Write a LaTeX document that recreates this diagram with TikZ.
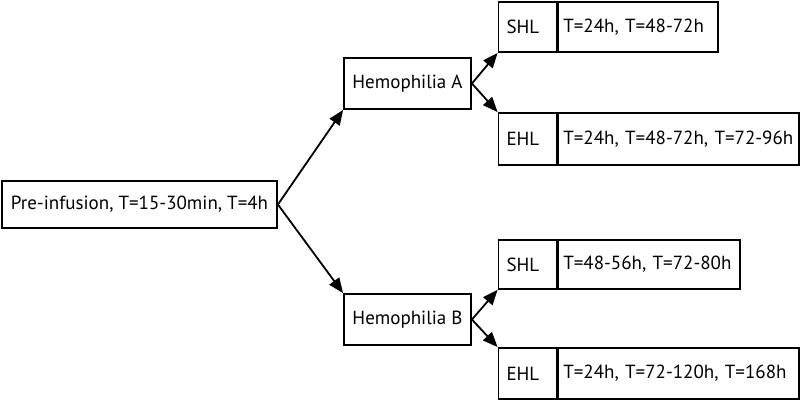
\documentclass[tikz,border=0pt]{standalone}
\usepackage{fontspec}
\setmainfont{PT Sans}
\usetikzlibrary{positioning,arrows.meta}

\tikzstyle{box} = [draw, line width=1.8pt, inner sep=0pt, font=\fontsize{19}{22}\selectfont]
\tikzstyle{tag} = [box, text width=42pt, align=left, inner xsep=8pt]
\tikzstyle{times} = [box, align=left, inner xsep=5pt]
\tikzstyle{arr} = [line width=1.8pt, -{Triangle[length=15pt,width=12pt]}]

\begin{document}
\begin{tikzpicture}[x=1pt,y=-1pt]
	\useasboundingbox (0,0) rectangle (800,401);
	\node[box, minimum width=275pt, minimum height=47pt] (preinf) at (139.5,204.5) {Pre-infusion, T=15-30min, T=4h};
	\node[box, minimum width=127pt, minimum height=51pt] (hemA) at (407.5,83.5) {Hemophilia A};
	\node[box, minimum width=127pt, minimum height=51pt] (hemB) at (407.5,319.5) {Hemophilia B};
	\node[tag, minimum height=50pt] (shlA) at (527.5,27) {SHL};
	\node[times, minimum height=50pt, text width=150pt, right=0pt of shlA] (shlAt) {T=24h, T=48-72h};
	\node[tag, minimum height=52pt] (ehlA) at (527.5,139) {EHL};
	\node[times, minimum height=52pt, text width=231pt, right=0pt of ehlA] (ehlAt) {T=24h, T=48-72h, T=72-96h};
	\node[tag, minimum height=49pt] (shlB) at (527.5,264.5) {SHL};
	\node[times, minimum height=49pt, text width=172pt, right=0pt of shlB] (shlBt) {T=48-56h, T=72-80h};
	\node[tag, minimum height=51pt] (ehlB) at (527.5,373.5) {EHL};
	\node[times, minimum height=51pt, text width=231pt, right=0pt of ehlB] (ehlBt) {T=24h, T=72-120h, T=168h};
	\draw[arr] (preinf.east) -- (hemA.south west);
	\draw[arr] (preinf.east) -- (hemB.north west);
	\draw[arr] (hemA.east) -- (shlA.south west);
	\draw[arr] (hemA.east) -- (ehlA.north west);
	\draw[arr] (hemB.east) -- (shlB.south west);
	\draw[arr] (hemB.east) -- (ehlB.north west);
\end{tikzpicture}
\end{document}
